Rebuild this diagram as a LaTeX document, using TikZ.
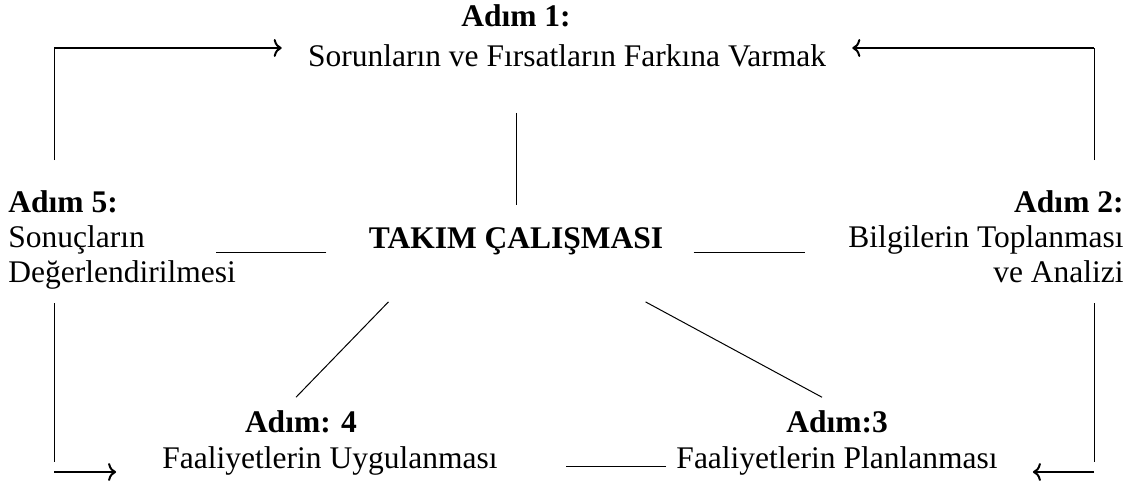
\documentclass[tikz,border=0pt]{standalone}
\usepackage{fontspec}
\setmainfont{Liberation Serif}
\usetikzlibrary{arrows.meta,calc}
\tikzset{
  % text of the steps
  lbl/.style={inner sep=0pt,font=\fontsize{15.75}{17.5}\selectfont},
  head/.style={lbl,font=\fontsize{15.75}{17.5}\selectfont\bfseries},
  % connectors
  link/.style={line width=0.5pt},
  flow/.style={line width=1pt,-{To[length=4pt,width=9pt]}},
}

\begin{document}
\begin{tikzpicture}[x=0.5pt,y=-0.5pt]
\useasboundingbox (0,0) rectangle (1134,481);
%% baselines of the text rows
\def\rA{27} \def\rB{67} \def\rC{212} \def\rD{248} \def\rE{432} \def\rF{468}

%% ===== steps =====
\node[head,anchor=base] (s1h) at (516,\rA) {Adım 1:};
\node[lbl,anchor=base]  (s1)  at (567,\rB) {Sorunların ve Fırsatların Farkına Varmak};

\node[head,anchor=base] (team) at (516,\rD) {TAKIM ÇALIŞMASI};

\node[head,anchor=base west] (s5h) at (8,\rC) {Adım 5:};
\node[lbl,anchor=north west,align=left] (s5) at (8,225.5) {Sonuçların\\Değerlendirilmesi};

\node[head,anchor=base east] (s2h) at (1124,\rC) {Adım 2:};
\node[lbl,anchor=north east,align=right] (s2) at (1124,225.5) {Bilgilerin Toplanması\\ve Analizi};

\node[head,anchor=base] (s4h) at (301,\rE) {Adım: 4};
\node[lbl,anchor=base]  (s4)  at (330,\rF) {Faaliyetlerin Uygulanması};

\node[head,anchor=base] (s3h) at (837,\rE) {Adım:3};
\node[lbl,anchor=base]  (s3)  at (837,\rF) {Faaliyetlerin Planlanması};

%% ===== return lines (left) =====
\coordinate (lt) at (54,48);
\coordinate (lu) at (54,160);
\coordinate (ld) at (54,303);
\coordinate (lb) at (54,462);
\coordinate (la) at (54,472);
\draw[link] (lu) -- (lt);
\draw[flow] (lt) -- ([xshift=-13pt]s1.west |- lt);
\draw[link] (ld) -- (lb);
\draw[flow] (la) -- ([xshift=-23pt]s4.west |- la);

%% ===== return lines (right) =====
\coordinate (rt) at (1094,48);
\coordinate (ru) at (1094,160);
\coordinate (rd) at (1094,303);
\coordinate (rb) at (1094,462);
\coordinate (ra) at (1094,472);
\draw[link] (ru) -- (rt);
\draw[flow] (rt) -- ([xshift=13pt]s1.east |- rt);
\draw[link] (rd) -- (rb);
\draw[flow] (ra) -- ([xshift=17.5pt]s3.east |- ra);

%% ===== team work links =====
\draw[link,shorten <=22.5pt,shorten >=11pt] (team.north |- s1.south) -- (team.north);
\draw[link] ($(team.base west)+(-42,4)$) -- ++(-110,0);
\draw[link] ($(team.base east)+(30,4)$) -- ++(111,0);
\draw[link] ($(team.south west)+(20,47)$) -- ($(s4h.north)+(-5,-12.5)$);
\draw[link] ($(team.south east)+(-18,47)$) -- ($(s3h.north)+(-15,-12.5)$);
\draw[link] ($(s3.base west)+(-10,-2)$) -- ++(-100,0);
\end{tikzpicture}
\end{document}
